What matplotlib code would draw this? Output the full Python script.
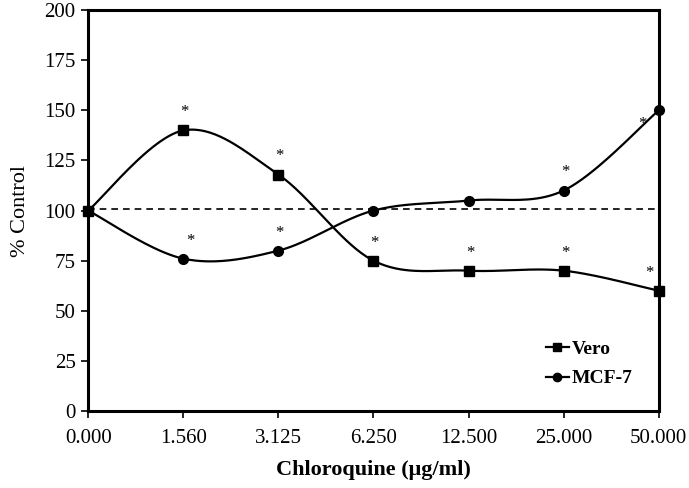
import numpy as np
import matplotlib.pyplot as plt

plt.rcParams['font.family'] = ['Liberation Serif', 'DejaVu Serif']

doses = ["0.000", "1.560", "3.125", "6.250", "12.500", "25.000", "50.000"]
vero = [100, 140, 118, 75, 70, 70, 60]
mcf7 = [100, 76, 80, 100, 105, 110, 150]
vero_sig = [False, True, True, True, True, True, True]
mcf7_sig = [False, True, True, False, False, True, True]
control_level = 101


def smooth(xs, ys, n=40):
    # Excel-style smoothed line: Catmull-Rom control points, cubic Bezier segments
    xs = np.asarray(xs, float)
    ys = np.asarray(ys, float)
    px = np.concatenate([[xs[0]], xs, [xs[-1]]])
    py = np.concatenate([[ys[0]], ys, [ys[-1]]])
    ox, oy = [], []
    t = np.linspace(0, 1, n)
    for i in range(1, len(px) - 2):
        p0 = np.array([px[i], py[i]])
        p3 = np.array([px[i + 1], py[i + 1]])
        p1 = p0 + (np.array([px[i + 1], py[i + 1]]) - np.array([px[i - 1], py[i - 1]])) / 6
        p2 = p3 - (np.array([px[i + 2], py[i + 2]]) - np.array([px[i], py[i]])) / 6
        b = ((1 - t) ** 3)[:, None] * p0 + (3 * (1 - t) ** 2 * t)[:, None] * p1 \
            + (3 * (1 - t) * t ** 2)[:, None] * p2 + (t ** 3)[:, None] * p3
        ox.extend(b[:, 0])
        oy.extend(b[:, 1])
    return np.array(ox), np.array(oy)


x = np.arange(len(doses))

fig, ax = plt.subplots(figsize=(6.89, 4.88), dpi=100)
fig.subplots_adjust(left=0.128, right=0.956, top=0.979, bottom=0.158)

ax.axhline(control_level, color='black', lw=1.2, ls=(0, (4, 3)), zorder=1)

sx, sy = smooth(x, vero)
ax.plot(sx, sy, color='black', lw=1.6, zorder=2)
ax.plot(x, vero, 's', color='black', ms=7, zorder=3, clip_on=False)
sx, sy = smooth(x, mcf7)
ax.plot(sx, sy, color='black', lw=1.6, zorder=2)
ax.plot(x, mcf7, 'o', color='black', ms=7, zorder=3, clip_on=False)

# legend handles
ax.plot([], [], '-s', color='black', ms=6, lw=1.6, label='Vero')
ax.plot([], [], '-o', color='black', ms=6, lw=1.6, label='MCF-7')

# significance stars
for i, (v, s) in enumerate(zip(vero, vero_sig)):
    if s:
        dx = -7 if i == len(doses) - 1 else 1
        ax.annotate('*', (x[i], v), xytext=(dx, 13), textcoords='offset points',
                    ha='center', va='center', fontsize=12)
for i, (v, s) in enumerate(zip(mcf7, mcf7_sig)):
    if s:
        if i == len(doses) - 1:
            dx, dy = -12, -10
        elif i == 1:
            dx, dy = 5, 13
        else:
            dx, dy = 1, 13
        ax.annotate('*', (x[i], v), xytext=(dx, dy), textcoords='offset points',
                    ha='center', va='center', fontsize=12)

ax.set_xlim(0, len(doses) - 1)
ax.set_ylim(0, 200)
ax.set_xticks(x)
ax.set_xticklabels(doses)
ax.set_yticks(np.arange(0, 201, 25))
ax.tick_params(axis='both', labelsize=15, direction='out', length=5, width=1.2)
ax.tick_params(axis='x', pad=8)
ax.tick_params(axis='y', pad=4)

for sp in ax.spines.values():
    sp.set_linewidth(2.2)

ax.set_xlabel('Chloroquine (μg/ml)', fontsize=16, fontweight='bold', labelpad=9)
ax.set_ylabel('% Control', fontsize=16, labelpad=10)

leg = ax.legend(loc='lower right', bbox_to_anchor=(0.985, 0.015), frameon=False,
                prop={'weight': 'bold', 'size': 14}, handlelength=1.2,
                handletextpad=0.15, labelspacing=0.6)

fig.savefig('out.png', dpi=100)
